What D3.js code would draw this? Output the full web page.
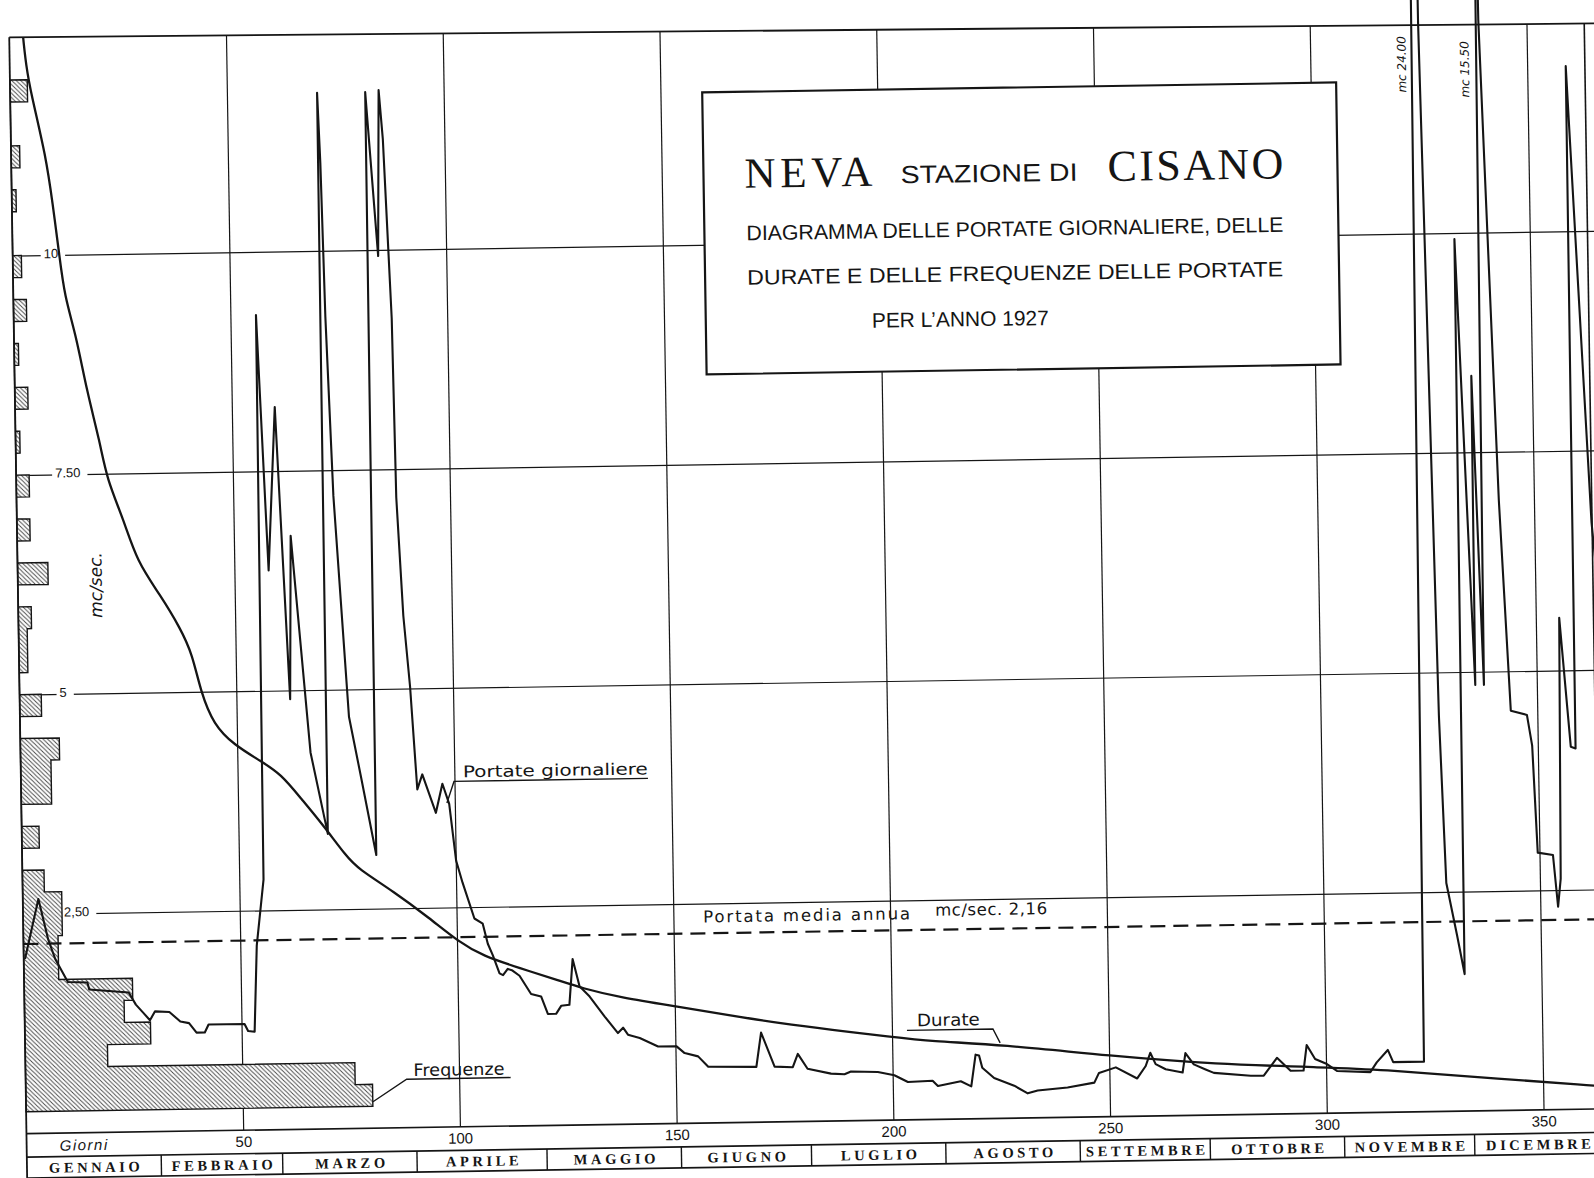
<!DOCTYPE html>
<html lang="it">
<head>
<meta charset="utf-8">
<title>Neva - Stazione di Cisano 1927</title>
<script src="https://cdn.jsdelivr.net/npm/d3@7/dist/d3.min.js"></script>
<style>
  body { margin: 0; background: #fff; }
  svg { display: block; }
</style>
</head>
<body>
<svg width="1594" height="1178"></svg>
<script>
const portateGiorno = [0.3, 3.6, 5.7, 7.3, 10.1, 14.6, 15.0, 24.1, 25.7, 27.3, 28.9, 30.1, 33.4, 35.9, 37.9, 39.6, 41.5, 42.4, 50.7, 51.5,
  53.0, 53.8, 55.6, 55.9, 57.9, 59.9, 62.4, 63.1, 66.9, 70.6, 70.8, 71.3, 71.9, 73.1, 75.9, 78.5, 81.7, 81.9, 84.3, 85.0,
  85.8, 87.2, 87.6, 88.8, 90.1, 91.4, 92.6, 95.6, 97.2, 98.7, 100.1, 101.5, 104.1, 106.0, 107.1, 108.2, 109.7, 110.5, 111.6, 112.7,
  114.3, 116.9, 119.2, 120.7, 122.6, 123.8, 125.7, 126.6, 128.1, 130.4, 133.8, 136.8, 138.0, 139.1, 141.8, 146.0, 150.2, 152.1, 155.2, 157.5,
  168.6, 169.8, 172.8, 177.0, 178.2, 180.4, 185.8, 188.9, 190.4, 196.6, 200.4, 203.5, 209.2, 210.4, 215.7, 218.1, 219.2, 220.0, 220.7, 223.4,
  228.0, 231.1, 233.4, 240.3, 246.5, 247.6, 251.5, 256.4, 258.4, 259.5, 260.7, 263.0, 266.9, 267.6, 269.5, 272.2, 274.1, 282.6, 285.6, 288.7,
  291.8, 294.8, 295.6, 297.5, 300.2, 302.5, 310.2, 311.7, 314.3, 315.5, 322.6, 324.2, 325.0, 326.6, 327.3, 328.4, 330.7, 332.3, 332.6, 335.8,
  336.0, 337.8, 338.5, 338.9, 341.9, 343.9, 347.6, 348.7, 349.6, 353.1, 354.1, 354.8, 355.4, 357.6, 358.7, 358.9, 363.2, 365];
const portateValore = [1.99, 2.67, 2.21, 1.98, 1.72, 1.71, 1.63, 1.59, 1.45, 1.36, 1.27, 1.37, 1.36, 1.25, 1.23, 1.12, 1.12, 1.21, 1.21, 1.13,
  1.12, 2.10, 2.85, 9.28, 6.37, 8.23, 4.90, 6.76, 4.29, 3.36, 11.80, 11.00, 9.25, 7.21, 4.69, 3.99, 3.11, 11.80, 9.93, 11.82,
  11.26, 9.22, 7.18, 5.83, 5.02, 3.85, 4.02, 3.58, 3.91, 3.68, 3.03, 2.78, 2.37, 2.31, 2.08, 1.95, 1.74, 1.72, 1.79, 1.77,
  1.71, 1.50, 1.47, 1.27, 1.27, 1.36, 1.37, 1.89, 1.58, 1.46, 1.23, 1.04, 1.10, 1.02, 0.98, 0.88, 0.88, 0.80, 0.76, 0.64,
  0.63, 1.02, 0.63, 0.62, 0.77, 0.60, 0.54, 0.53, 0.56, 0.55, 0.51, 0.43, 0.44, 0.38, 0.43, 0.37, 0.73, 0.72, 0.58, 0.46,
  0.37, 0.28, 0.31, 0.34, 0.39, 0.50, 0.56, 0.43, 0.57, 0.72, 0.59, 0.53, 0.49, 0.71, 0.58, 0.52, 0.48, 0.44, 0.44, 0.64,
  0.49, 0.49, 0.78, 0.62, 0.56, 0.48, 0.46, 0.57, 0.71, 0.57, 0.57, 24.00, 12.40, 6.93, 4.50, 2.60, 2.00, 1.56, 9.93, 4.85,
  8.37, 4.85, 15.50, 12.42, 6.95, 4.55, 4.50, 4.15, 2.93, 2.90, 2.31, 2.63, 5.60, 4.13, 4.11, 11.88, 6.68, 5.60];

// Curva delle durate
const durateGiorno = [0, 1, 2.56, 5.09, 8.0, 9.41, 10.78, 11.81, 14.39, 16.55, 19.46, 20.9, 24.6, 27.6, 32.8, 37.3, 40.0, 41.8, 44.7, 49.3,
  55.4, 60.0, 64.5, 69.4, 74.8, 77.4, 85.6, 93.8, 100.3, 106.0, 114.2, 123.9, 128.5, 137.7, 150.7, 162.9, 174.4, 185.9, 199.7, 208.9,
  225.1, 250.4, 274.1, 300.2, 312.5, 335, 361.8, 365];
const durateValore = [24.0, 15.5, 12.45, 11.78, 11.13, 10.59, 9.99, 9.53, 9.07, 8.46, 7.86, 7.44, 6.98, 6.49, 6.11, 5.73, 5.43, 5.00, 4.62, 4.39,
  4.20, 4.05, 3.77, 3.47, 3.10, 2.96, 2.69, 2.38, 2.11, 1.94, 1.80, 1.64, 1.56, 1.44, 1.33, 1.22, 1.12, 1.04, 0.95, 0.89,
  0.84, 0.69, 0.58, 0.52, 0.49, 0.38, 0.27, 0.25];

// Frequenze: limite inferiore della classe (ampiezza 0,25 mc/sec) e numero di giorni
const freqClasse = [0.25, 0.5, 0.75, 1.0, 1.25, 1.5, 1.75, 2.0, 2.25, 2.5, 2.75, 3.25, 3.75, 4.0, 4.25, 4.75, 5.25, 5.5, 5.75, 6.25,
  6.75, 7.25, 7.75, 8.25, 8.75, 9.25, 9.75, 10.5, 11.0, 11.75];
const freqGiorni = [80, 76, 19, 29, 23, 25, 8, 8, 9, 9, 5, 4, 7, 7, 9, 5, 2, 2, 3, 7,
  3, 3, 1, 3, 1, 3, 2, 1, 2, 4];

const portataMedia = 2.16;
const tickGiorni = [50, 100, 150, 200, 250, 300, 350];
const tickPortate = [2.5, 5, 7.5, 10];
const tickEtichette = ['2,50', '5', '7.50', '10'];
const mesi = ['GENNAIO', 'FEBBRAIO', 'MARZO', 'APRILE', 'MAGGIO', 'GIUGNO', 'LUGLIO', 'AGOSTO', 'SETTEMBRE', 'OTTOBRE', 'NOVEMBRE', 'DICEMBRE'];
const mesiInizio = [0, 31, 59, 90, 120, 151, 181, 212, 243, 273, 304, 334, 365];

const x = d3.scaleLinear().domain([0, 365]).range([18, 18 + 4.335 * 365]);
const y = d3.scaleLinear().domain([0, 12.43]).range([1121.5, 30]);

const x0 = x(0), xRight = 1593;
const yAxis = y(0), yRow = 1145, yBottom = 1166;
// the top border of the sheet is not quite parallel to the grid
const topAt = xx => 25 + (xx - x0) * 11 / (1594 - x0);
const ink = '#151515';

const svg = d3.select('svg');
const defs = svg.append('defs');
const hatch = defs.append('pattern').attr('id', 'hatch')
    .attr('patternUnits', 'userSpaceOnUse').attr('width', 4.4).attr('height', 4.4);
hatch.append('rect').attr('width', 4.4).attr('height', 4.4).attr('fill', '#fff');
hatch.append('path').attr('d', 'M0,0L4.4,4.4M-1,3.4L1,5.4M3.4,-1L5.4,1')
    .attr('stroke', '#444').attr('stroke-width', 0.9);
defs.append('clipPath').attr('id', 'frame').append('path')
    .attr('d', d3.line()([[x0, topAt(x0)], [xRight, topAt(xRight)], [xRight, yAxis], [x0, yAxis]]) + 'Z');

// the scanned sheet is slightly tilted
const g = svg.append('g').attr('transform', 'rotate(-0.9 797 589)');

// grid
g.append('g').attr('transform', `translate(0,${yAxis})`)
    .call(d3.axisBottom(x).tickValues(tickGiorni).tickSize(0).tickFormat(''))
    .call(a => a.select('.domain').remove())
    .selectAll('line')
    .attr('y2', d => topAt(x(d)) - yAxis)
    .attr('stroke', ink).attr('stroke-width', 1.2);

g.append('g').attr('transform', `translate(${x0},0)`)
    .call(d3.axisLeft(y).tickValues(tickPortate).tickSize(-(1620 - x0)).tickFormat(''))
    .call(a => a.select('.domain').remove())
    .selectAll('line').attr('stroke', ink).attr('stroke-width', 1.2);

// y labels sitting on the grid lines
const labX = [59, 58, 57, 49];
const yLab = g.append('g');
tickPortate.forEach((v, i) => {
  const t = yLab.append('text').attr('x', labX[i]).attr('y', y(v) + 3)
      .attr('font-family', 'Liberation Sans, sans-serif').attr('font-size', 13)
      .attr('fill', ink).text(tickEtichette[i]);
  const b = t.node().getBBox();
  yLab.insert('rect', () => t.node()).attr('x', b.x - 3).attr('y', y(v) - 2).attr('width', b.width + 10)
      .attr('height', 4).attr('fill', '#fff');
});

// Frequenze histogram
const conteggio = new Map(freqClasse.map((c, i) => [c, freqGiorni[i]]));
const classi = d3.range(1, 48).map(i => i * 0.25);
const freqPath = d3.path();
freqPath.moveTo(x0, y(0.25));
classi.forEach(c => {
  const n = conteggio.get(c) || 0;
  freqPath.lineTo(x(n), y(c));
  freqPath.lineTo(x(n), y(c + 0.25));
});
freqPath.lineTo(x0, y(12));
freqPath.closePath();
g.append('path').attr('d', freqPath.toString())
    .attr('fill', 'url(#hatch)').attr('stroke', ink).attr('stroke-width', 1.4);

// mean flow
g.append('line').attr('x1', x0).attr('x2', 1620).attr('y1', y(portataMedia)).attr('y2', y(portataMedia))
    .attr('stroke', ink).attr('stroke-width', 2.2).attr('stroke-dasharray', '15,8');

// durate
const durate = durateGiorno.map((d, i) => [d, durateValore[i]]);
g.append('path').datum(durate)
    .attr('clip-path', 'url(#frame)')
    .attr('d', d3.line().x(d => x(d[0])).y(d => y(d[1])).curve(d3.curveBasis))
    .attr('fill', 'none').attr('stroke', ink).attr('stroke-width', 2.3);

// portate giornaliere
const portate = portateGiorno.map((d, i) => [d, portateValore[i]]);
g.append('path').datum(portate)
    .attr('d', d3.line().x(d => x(d[0])).y(d => y(d[1])))
    .attr('fill', 'none').attr('stroke', ink).attr('stroke-width', 2.1)
    .attr('stroke-linejoin', 'round');

// frame and bottom table
const frame = g.append('g').attr('stroke', ink).attr('fill', 'none');
frame.append('line').attr('x1', x0).attr('x2', 1620).attr('y1', topAt(x0)).attr('y2', topAt(1620)).attr('stroke-width', 1.8);
frame.append('line').attr('x1', x0).attr('x2', x0).attr('y1', topAt(x0)).attr('y2', yBottom).attr('stroke-width', 1.8);
frame.append('line').attr('x1', xRight).attr('x2', xRight).attr('y1', topAt(xRight)).attr('y2', yBottom).attr('stroke-width', 1.6);
frame.append('line').attr('x1', x0).attr('x2', 1620).attr('y1', yAxis).attr('y2', yAxis).attr('stroke-width', 1.6);
frame.append('line').attr('x1', x0).attr('x2', 1620).attr('y1', yRow).attr('y2', yRow).attr('stroke-width', 1.6);
frame.append('line').attr('x1', x0).attr('x2', 1620).attr('y1', yBottom).attr('y2', yBottom).attr('stroke-width', 1.6);

const giorniAxis = g.append('g').attr('transform', `translate(0,${yAxis})`)
    .call(d3.axisBottom(x).tickValues(tickGiorni).tickSize(0).tickPadding(6));
giorniAxis.select('.domain').remove();
giorniAxis.selectAll('text').attr('font-family', 'Liberation Sans, sans-serif')
    .attr('font-size', 15).attr('fill', ink);

g.append('text').attr('x', 51).attr('y', 1139)
    .attr('font-family', 'Liberation Sans, sans-serif').attr('font-style', 'italic')
    .attr('font-size', 15).attr('letter-spacing', 1.5).attr('fill', ink).text('Giorni');

mesiInizio.slice(1, -1).forEach(d => {
  g.append('line').attr('x1', x(d)).attr('x2', x(d)).attr('y1', yRow).attr('y2', yBottom)
      .attr('stroke', ink).attr('stroke-width', 1.4);
});
mesi.forEach((m, i) => {
  const xc = (x(mesiInizio[i]) + Math.min(x(mesiInizio[i + 1]), xRight)) / 2;
  g.append('text').attr('x', xc + 2).attr('y', 1161).attr('text-anchor', 'middle')
      .attr('font-family', 'Liberation Serif, serif').attr('font-weight', 'bold')
      .attr('font-size', 14.5).attr('letter-spacing', 3.6).attr('fill', ink).text(m);
});

// title box
g.append('rect').attr('x', 710).attr('y', 91).attr('width', 634).attr('height', 282)
    .attr('fill', '#fff').attr('stroke', ink).attr('stroke-width', 2.2);
const title = g.append('g').attr('fill', ink);
title.append('text').attr('x', 751).attr('y', 187).attr('font-family', 'Liberation Serif, serif')
    .attr('font-size', 43).attr('textLength', 128).attr('lengthAdjust', 'spacing').text('NEVA');
title.append('text').attr('x', 907).attr('y', 185).attr('font-family', 'Liberation Sans, sans-serif')
    .attr('font-size', 25).attr('textLength', 177).attr('lengthAdjust', 'spacingAndGlyphs').text('STAZIONE DI');
title.append('text').attr('x', 1114).attr('y', 186).attr('font-family', 'Liberation Serif, serif')
    .attr('font-size', 44).attr('textLength', 176).attr('lengthAdjust', 'spacing').text('CISANO');
const righe = [
  ['DIAGRAMMA DELLE PORTATE GIORNALIERE, DELLE', 752, 239.5, 537],
  ['DURATE E DELLE FREQUENZE DELLE PORTATE', 752, 284, 536],
  ['PER  L\u2019ANNO 1927', 876, 329, 177]
];
righe.forEach(r => {
  title.append('text').attr('x', r[1]).attr('y', r[2]).attr('font-family', 'Liberation Sans, sans-serif')
      .attr('font-size', 21).attr('textLength', r[3]).attr('lengthAdjust', 'spacingAndGlyphs').text(r[0]);
});

// hand lettered labels
const lab = g.append('g').attr('font-family', 'DejaVu Sans, sans-serif').attr('fill', ink);
lab.append('text').attr('x', 460).attr('y', 772).attr('font-size', 16)
    .attr('textLength', 185).attr('lengthAdjust', 'spacingAndGlyphs').text('Portate giornaliere');
lab.append('text').attr('x', 406).attr('y', 1070).attr('font-size', 17)
    .attr('textLength', 91).attr('lengthAdjust', 'spacingAndGlyphs').text('Frequenze');
lab.append('text').attr('x', 910).attr('y', 1028).attr('font-size', 17)
    .attr('textLength', 63).attr('lengthAdjust', 'spacingAndGlyphs').text('Durate');
lab.append('text').attr('x', 698).attr('y', 921).attr('font-size', 16.5)
    .attr('textLength', 207).attr('lengthAdjust', 'spacing').text('Portata  media  annua');
lab.append('text').attr('x', 930).attr('y', 918).attr('font-size', 16.5)
    .attr('textLength', 112).attr('lengthAdjust', 'spacing').text('mc/sec. 2,16');

const leaders = [
  [[443.6, 797.5], [451, 776], [645, 776]],
  [[365, 1095], [399, 1073], [503, 1073]],
  [[900, 1032], [986, 1032], [993, 1046]]
];
leaders.forEach(p => {
  g.append('path').attr('d', d3.line()(p)).attr('fill', 'none')
      .attr('stroke', ink).attr('stroke-width', 1.4);
});

// rotated unit labels
const rot = (tx, ty, txt, size) => g.append('text')
    .attr('transform', `translate(${tx},${ty}) rotate(-90)`)
    .attr('text-anchor', 'middle').attr('dominant-baseline', 'central')
    .attr('font-family', 'DejaVu Sans, sans-serif').attr('font-style', 'italic')
    .attr('font-size', size).attr('fill', ink).text(txt);
rot(96, 574, 'mc/sec.', 17);
rot(1410, 74, 'mc 24.00', 12);
rot(1473, 80, 'mc 15.50', 12);
</script>
</body>
</html>
